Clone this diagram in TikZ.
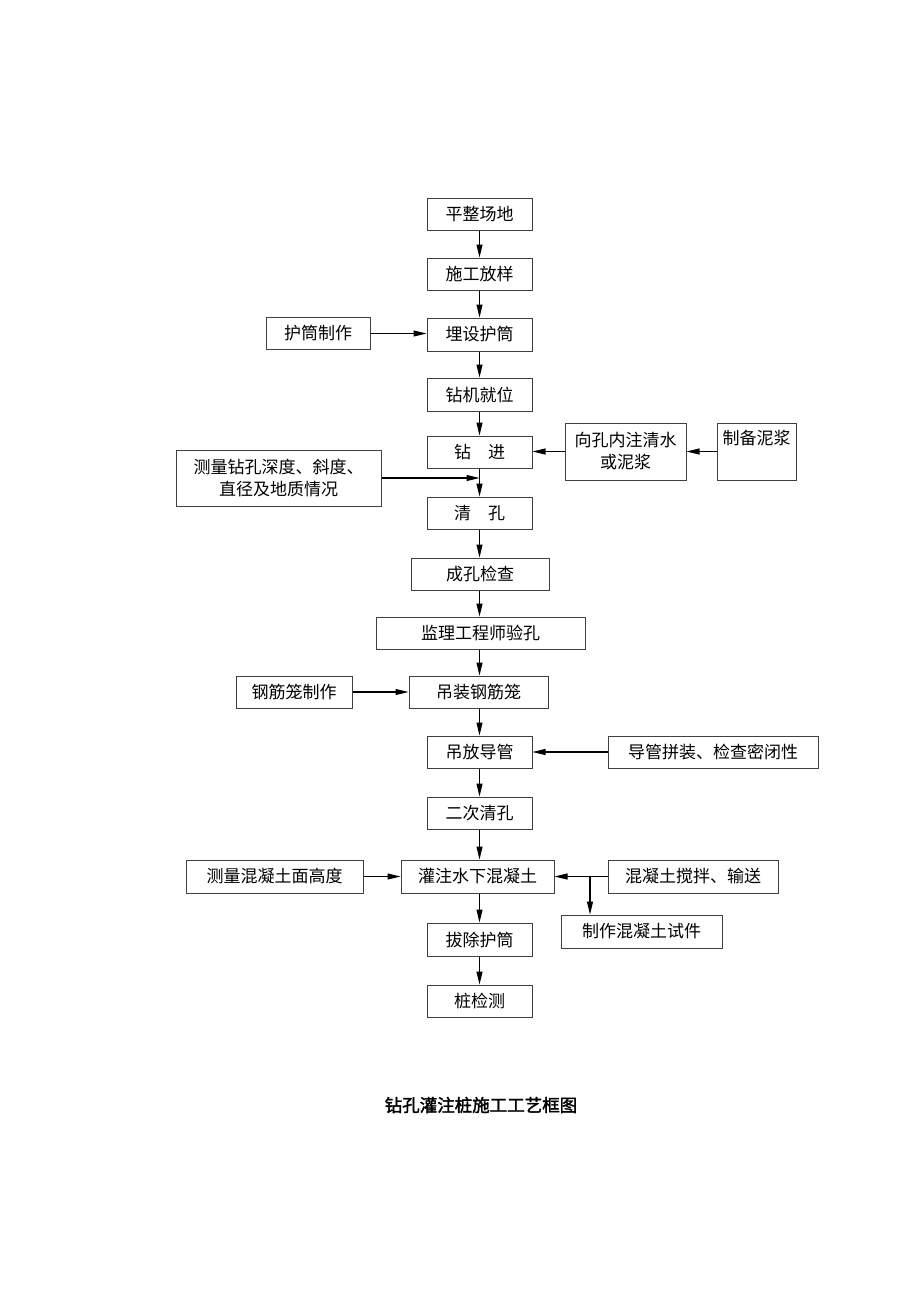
\documentclass[tikz,border=0pt]{standalone}
\usepackage{fontspec}
\newfontfamily\cjk{Noto Sans CJK SC}
\newfontfamily\cjkb[FakeBold=2]{Noto Sans CJK SC}
\usetikzlibrary{arrows.meta}
\begin{document}
\begin{tikzpicture}[x=1pt,y=-1pt,
  box/.style={draw=black!75, line width=1pt, inner sep=0pt, minimum height=32, font=\cjk\fontsize{17}{22}\selectfont, align=center},
  lbl/.style={inner sep=0pt, font=\cjk\fontsize{17}{22}\selectfont},
  arr/.style={-{Triangle[length=13pt,width=6pt]}, line width=1.1pt, draw=black}]
\useasboundingbox (0,0) rectangle (920,1302);
% main column
\node[box, minimum width=105] (a) at (479.5,214) {平整场地};
\node[box, minimum width=105] (b) at (479.5,274) {施工放样};
\node[box, minimum width=105, minimum height=33] (c) at (479.5,334.5) {埋设护筒};
\node[box, minimum width=105, minimum height=33] (d) at (479.5,394.5) {钻机就位};
\node[box, minimum width=105] (e) at (479.5,452) {钻\hspace{1em}进};
\node[box, minimum width=105] (f) at (479.5,513) {清\hspace{1em}孔};
\node[box, minimum width=138] (g) at (480,574) {成孔检查};
\node[box, minimum width=209] (h) at (480.5,633) {监理工程师验孔};
\node[box, minimum width=139] (i) at (478.5,692) {吊装钢筋笼};
\node[box, minimum width=105] (j) at (479.5,752) {吊放导管};
\node[box, minimum width=105] (k) at (479.5,813) {二次清孔};
\node[box, minimum width=153, minimum height=33] (l) at (477.5,876.5) {灌注水下混凝土};
\node[box, minimum width=105, minimum height=33] (n) at (479.5,939.5) {拔除护筒};
\node[box, minimum width=105] (o) at (479.5,1001) {桩检测};
% side boxes
\node[box, minimum width=104] (c2) at (318,333.5) {护筒制作};
\node[box, minimum width=121, minimum height=57] (e2) at (625.5,451.5) {向孔内注清水\\或泥浆};
\node[box, minimum width=79, minimum height=57] (e3) at (756.5,451.5) {};
\node[lbl] (e3t) at (756.5,438) {制备泥浆};
\node[box, minimum width=205, minimum height=56] (m) at (278.5,478) {测量钻孔深度、斜度、\\直径及地质情况};
\node[box, minimum width=116] (i2) at (294,692) {钢筋笼制作};
\node[box, minimum width=210] (j2) at (713,752) {导管拼装、检查密闭性};
\node[box, minimum width=177, minimum height=33] (l2) at (274.5,876.5) {测量混凝土面高度};
\node[box, minimum width=170, minimum height=33] (l3) at (693,876.5) {混凝土搅拌、输送};
\node[box, minimum width=161, minimum height=33] (l4) at (641.5,931.5) {制作混凝土试件};
% title
\node[inner sep=0pt, font=\cjkb\fontsize{17.5}{22}\selectfont] (title) at (481,1105) {钻孔灌注桩施工工艺框图};
% main arrows
\draw[arr] (a.south) -- (a.south |- b.north);
\draw[arr] (b.south) -- (b.south |- c.north);
\draw[arr] (c.south) -- (c.south |- d.north);
\draw[arr] (d.south) -- (d.south |- e.north);
\draw[arr] (e.south) -- (e.south |- f.north);
\draw[arr] (f.south) -- (f.south |- g.north);
\draw[arr] (f.south |- g.south) -- (f.south |- h.north);
\draw[arr] (f.south |- h.south) -- (f.south |- i.north);
\draw[arr] (f.south |- i.south) -- (f.south |- j.north);
\draw[arr] (j.south) -- (j.south |- k.north);
\draw[arr] (k.south) -- (k.south |- l.north);
\draw[arr] (k.south |- l.south) -- (k.south |- n.north);
\draw[arr] (n.south) -- (n.south |- o.north);
% side arrows
\draw[arr] (c2.east) -- (c2.east -| c.west);
\draw[arr] (e2.west) -- (e2.west -| e.east);
\draw[arr] (e3.west) -- (e3.west -| e2.east);
\draw[arr] (m.east) -- (m.east -| e.south);
\draw[arr] (i2.east) -- (i2.east -| i.west);
\draw[arr] (j2.west) -- (j2.west -| j.east);
\draw[arr] (l2.east) -- (l2.east -| l.west);
\draw[arr] (l3.west) -- (l3.west -| l.east);
\coordinate (br) at (590,876.5);
\draw[arr] (br) -- (br |- l4.north);
\end{tikzpicture}
\end{document}
